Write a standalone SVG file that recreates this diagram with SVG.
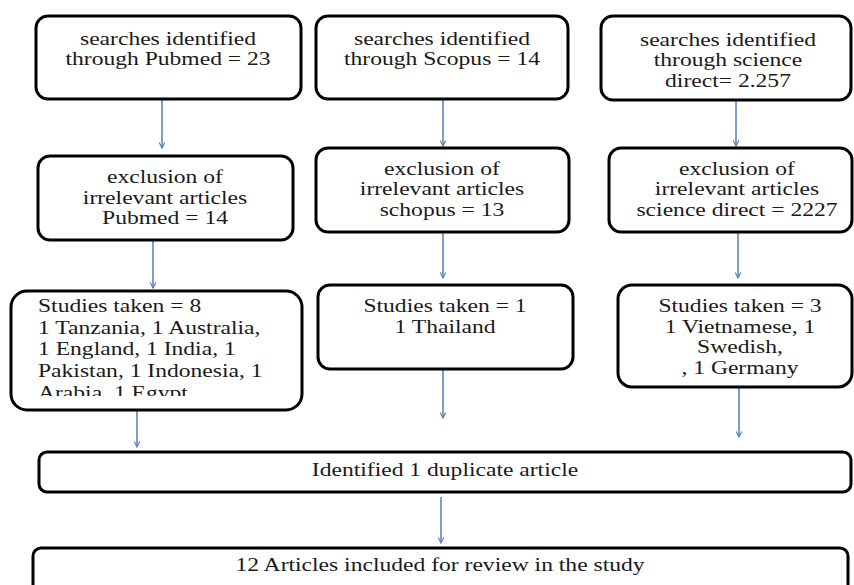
<svg xmlns="http://www.w3.org/2000/svg" width="854" height="585" viewBox="0 0 854 585">
<style>
.box{fill:#fff;stroke:#000;stroke-width:3}
.t{font-family:"Liberation Serif","Times New Roman",serif;font-size:18px;fill:#1a1a1a}
.c{text-anchor:middle}
.conn line{stroke:#4f81bd;stroke-width:1.5}
</style>
<defs>
<marker id="ah" viewBox="0 0 10 10" refX="9" refY="5" markerWidth="7" markerHeight="7" markerUnits="userSpaceOnUse" orient="auto">
<path d="M1,1 L9,5 L1,9" fill="none" stroke="#4f81bd" stroke-width="1.6"/>
</marker>
<clipPath id="c7"><rect x="0" y="285" width="310" height="111"/></clipPath>
<clipPath id="c9"><rect x="610" y="285" width="244" height="93"/></clipPath>
</defs>
<rect width="854" height="585" fill="#fff"/>
<g class="conn">
<line x1="162" y1="100" x2="162" y2="148" marker-end="url(#ah)"/>
<line x1="443" y1="100" x2="443" y2="146" marker-end="url(#ah)"/>
<line x1="736" y1="101" x2="736" y2="146" marker-end="url(#ah)"/>
<line x1="153" y1="241" x2="153" y2="288" marker-end="url(#ah)"/>
<line x1="443" y1="233" x2="443" y2="278" marker-end="url(#ah)"/>
<line x1="738" y1="233" x2="738" y2="278" marker-end="url(#ah)"/>
<line x1="137" y1="411" x2="137" y2="447" marker-end="url(#ah)"/>
<line x1="443" y1="370" x2="443" y2="418" marker-end="url(#ah)"/>
<line x1="739" y1="388" x2="739" y2="437" marker-end="url(#ah)"/>
<line x1="441" y1="497" x2="441" y2="543" marker-end="url(#ah)"/>
</g>
<g id="n1">
<rect class="box" x="36" y="16" width="265" height="83" rx="12"/>
<text class="t c" transform="translate(168,45) scale(1.31,1)">searches identified</text>
<text class="t c" transform="translate(168,65) scale(1.31,1)">through Pubmed = 23</text>
</g>
<g id="n2">
<rect class="box" x="316" y="16" width="252" height="83" rx="12"/>
<text class="t c" transform="translate(442,45) scale(1.31,1)">searches identified</text>
<text class="t c" transform="translate(442,65) scale(1.31,1)">through Scopus = 14</text>
</g>
<g id="n3">
<rect class="box" x="601" y="16" width="250" height="84" rx="12"/>
<text class="t c" transform="translate(728,46) scale(1.31,1)">searches identified</text>
<text class="t c" transform="translate(728,66) scale(1.31,1)">through science</text>
<text class="t c" transform="translate(728,87) scale(1.31,1)">direct= 2.257</text>
</g>
<g id="n4">
<rect class="box" x="38" y="156" width="255" height="84" rx="12"/>
<text class="t c" transform="translate(165,183) scale(1.31,1)">exclusion of</text>
<text class="t c" transform="translate(165,204) scale(1.31,1)">irrelevant articles</text>
<text class="t c" transform="translate(165,224) scale(1.31,1)">Pubmed = 14</text>
</g>
<g id="n5">
<rect class="box" x="316" y="148" width="253" height="84" rx="12"/>
<text class="t c" transform="translate(442,175) scale(1.31,1)">exclusion of</text>
<text class="t c" transform="translate(442,195) scale(1.31,1)">irrelevant articles</text>
<text class="t c" transform="translate(442,216) scale(1.31,1)">schopus = 13</text>
</g>
<g id="n6">
<rect class="box" x="609" y="148" width="243" height="84" rx="12"/>
<text class="t c" transform="translate(737,175) scale(1.31,1)">exclusion of</text>
<text class="t c" transform="translate(737,195) scale(1.31,1)">irrelevant articles</text>
<text class="t c" transform="translate(737,216) scale(1.31,1)">science direct = 2227</text>
</g>
<g id="n7">
<rect class="box" x="11" y="291" width="291" height="119" rx="16"/>
<g clip-path="url(#c7)">
<text class="t" transform="translate(38,312) scale(1.31,1)">Studies taken = 8</text>
<text class="t" transform="translate(38,334) scale(1.31,1)">1 Tanzania, 1 Australia,</text>
<text class="t" transform="translate(38,355) scale(1.31,1)">1 England, 1 India, 1</text>
<text class="t" transform="translate(38,377) scale(1.31,1)">Pakistan, 1 Indonesia, 1</text>
<text class="t" transform="translate(38,399) scale(1.31,1)">Arabia, 1 Egypt</text>
</g>
</g>
<g id="n8">
<rect class="box" x="318" y="285" width="255" height="84" rx="12"/>
<text class="t c" transform="translate(445,312) scale(1.31,1)">Studies taken = 1</text>
<text class="t c" transform="translate(445,333) scale(1.31,1)">1 Thailand</text>
</g>
<g id="n9">
<rect class="box" x="618" y="285" width="234" height="102" rx="14"/>
<g clip-path="url(#c9)">
<text class="t c" transform="translate(740,312) scale(1.31,1)">Studies taken = 3</text>
<text class="t c" transform="translate(740,333) scale(1.31,1)">1 Vietnamese, 1</text>
<text class="t c" transform="translate(740,353) scale(1.31,1)">Swedish,</text>
<text class="t c" transform="translate(740,374) scale(1.31,1)">, 1 Germany</text>
</g>
</g>
<g id="n10">
<rect class="box" x="39" y="452" width="812" height="40" rx="8"/>
<text class="t c" transform="translate(445,476) scale(1.31,1)">Identified 1 duplicate article</text>
</g>
<g id="n11">
<rect class="box" x="33" y="548" width="815" height="50" rx="8"/>
<text class="t c" transform="translate(440,571) scale(1.31,1)">12 Articles included for review in the study</text>
</g>
</svg>
